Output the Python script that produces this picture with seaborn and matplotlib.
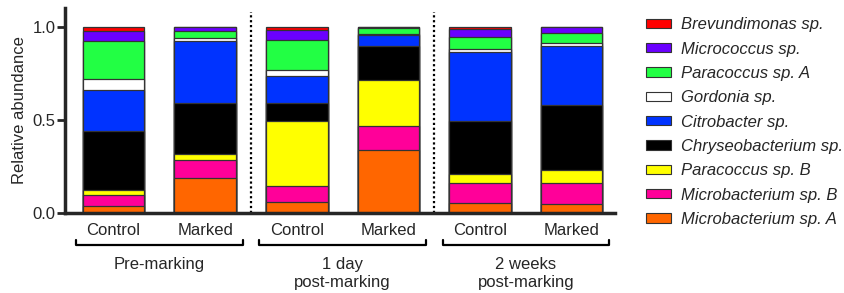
import numpy as np
import pandas as pd
import seaborn as sns
import matplotlib
matplotlib.use('Agg')
import matplotlib.pyplot as plt
from matplotlib.patches import Patch
from matplotlib.transforms import blended_transform_factory

# Bars, left to right
conditions = ['pre_control', 'pre_marked', 'day_control', 'day_marked', 'weeks_control', 'weeks_marked']
tick_labels = ['Control', 'Marked', 'Control', 'Marked', 'Control', 'Marked']
groups = ['Pre-marking', '1 day\npost-marking', '2 weeks\npost-marking']

# Species, bottom of the stack first
species = ['Microbacterium sp. A', 'Microbacterium sp. B', 'Paracoccus sp. B',
           'Chryseobacterium sp.', 'Citrobacter sp.', 'Gordonia sp.',
           'Paracoccus sp. A', 'Micrococcus sp.', 'Brevundimonas sp.']
colors = ['#ff6600', '#ff0099', '#ffff00', '#000000', '#0033ff', '#ffffff',
          '#22ff44', '#6a00ff', '#ff0000']

# Relative abundance per bar
microbacterium_a = [0.040, 0.188, 0.059, 0.339, 0.054, 0.048]
microbacterium_b = [0.055, 0.098, 0.088, 0.129, 0.105, 0.111]
paracoccus_b = [0.028, 0.032, 0.345, 0.246, 0.048, 0.073]
chryseobacterium = [0.315, 0.271, 0.098, 0.182, 0.286, 0.347]
citrobacter = [0.223, 0.332, 0.146, 0.059, 0.373, 0.319]
gordonia = [0.060, 0.020, 0.030, 0.005, 0.013, 0.015]
paracoccus_a = [0.204, 0.036, 0.163, 0.031, 0.067, 0.051]
micrococcus = [0.052, 0.019, 0.050, 0.005, 0.040, 0.036]
brevundimonas = [0.023, 0.004, 0.021, 0.004, 0.014, 0.000]

df = pd.DataFrame({'condition': conditions,
                   species[0]: microbacterium_a, species[1]: microbacterium_b,
                   species[2]: paracoccus_b, species[3]: chryseobacterium,
                   species[4]: citrobacter, species[5]: gordonia,
                   species[6]: paracoccus_a, species[7]: micrococcus,
                   species[8]: brevundimonas})

# Stack by drawing cumulative totals, tallest first
stacked = df.copy()
stacked[species] = df[species].cumsum(axis=1)

sns.set_style('ticks')
plt.rcParams['font.family'] = ['Liberation Sans', 'DejaVu Sans']
plt.rcParams['font.size'] = 12

fig = plt.figure(figsize=(8.44, 2.93), dpi=100)
ax = fig.add_axes([0.077, 0.273, 0.652, 0.70])

for sp, col in reversed(list(zip(species, colors))):
    sns.barplot(data=stacked, x='condition', y=sp, order=conditions, color=col,
                saturation=1, width=0.67, edgecolor='#333333', linewidth=0.9,
                errorbar=None, ax=ax)

# Dotted separators between time points
for x in [1.5, 3.5]:
    ax.plot([x, x], [0, 1.08], color='black', linestyle=(0, (1, 1.2)), linewidth=1.6,
            clip_on=False)

ax.set_xlim(-0.53, 5.475)
ax.set_ylim(0, 1.1)
ax.set_yticks([0, 0.5, 1.0])
ax.set_yticklabels(['0.0', '0.5', '1.0'])
ax.set_xticks(range(6))
ax.set_xticklabels(tick_labels)
ax.set_xlabel('')
ax.set_ylabel('Relative abundance', fontsize=12)
ax.tick_params(axis='x', length=0, pad=7, labelsize=12)
ax.tick_params(axis='y', length=6, width=2, pad=1, labelsize=12)
for side in ['left', 'bottom']:
    ax.spines[side].set_linewidth(2.5)
sns.despine(ax=ax)

# Group brackets under the tick labels
trans = blended_transform_factory(ax.transData, ax.transAxes)
for i, label in enumerate(groups):
    x0, x1 = 2 * i - 0.41, 2 * i + 1.41
    ax.plot([x0, x0, x1, x1], [-0.132, -0.156, -0.156, -0.132], color='black',
            linewidth=1.6, transform=trans, clip_on=False)
    ax.text(2 * i + 0.5, -0.215, label, transform=trans, ha='center', va='top',
            fontsize=12, linespacing=1.22)

handles = [Patch(facecolor=c, edgecolor='#333333', linewidth=0.8, label=s)
           for s, c in zip(species, colors)][::-1]
leg = fig.legend(handles=handles, loc='upper left', bbox_to_anchor=(0.757, 0.964),
                 frameon=False, fontsize=12, handlelength=1.5, handleheight=0.5,
                 handletextpad=0.6, labelspacing=0.56, borderaxespad=0)
for t in leg.get_texts():
    t.set_fontstyle('italic')

fig.savefig('out.png', dpi=100)
